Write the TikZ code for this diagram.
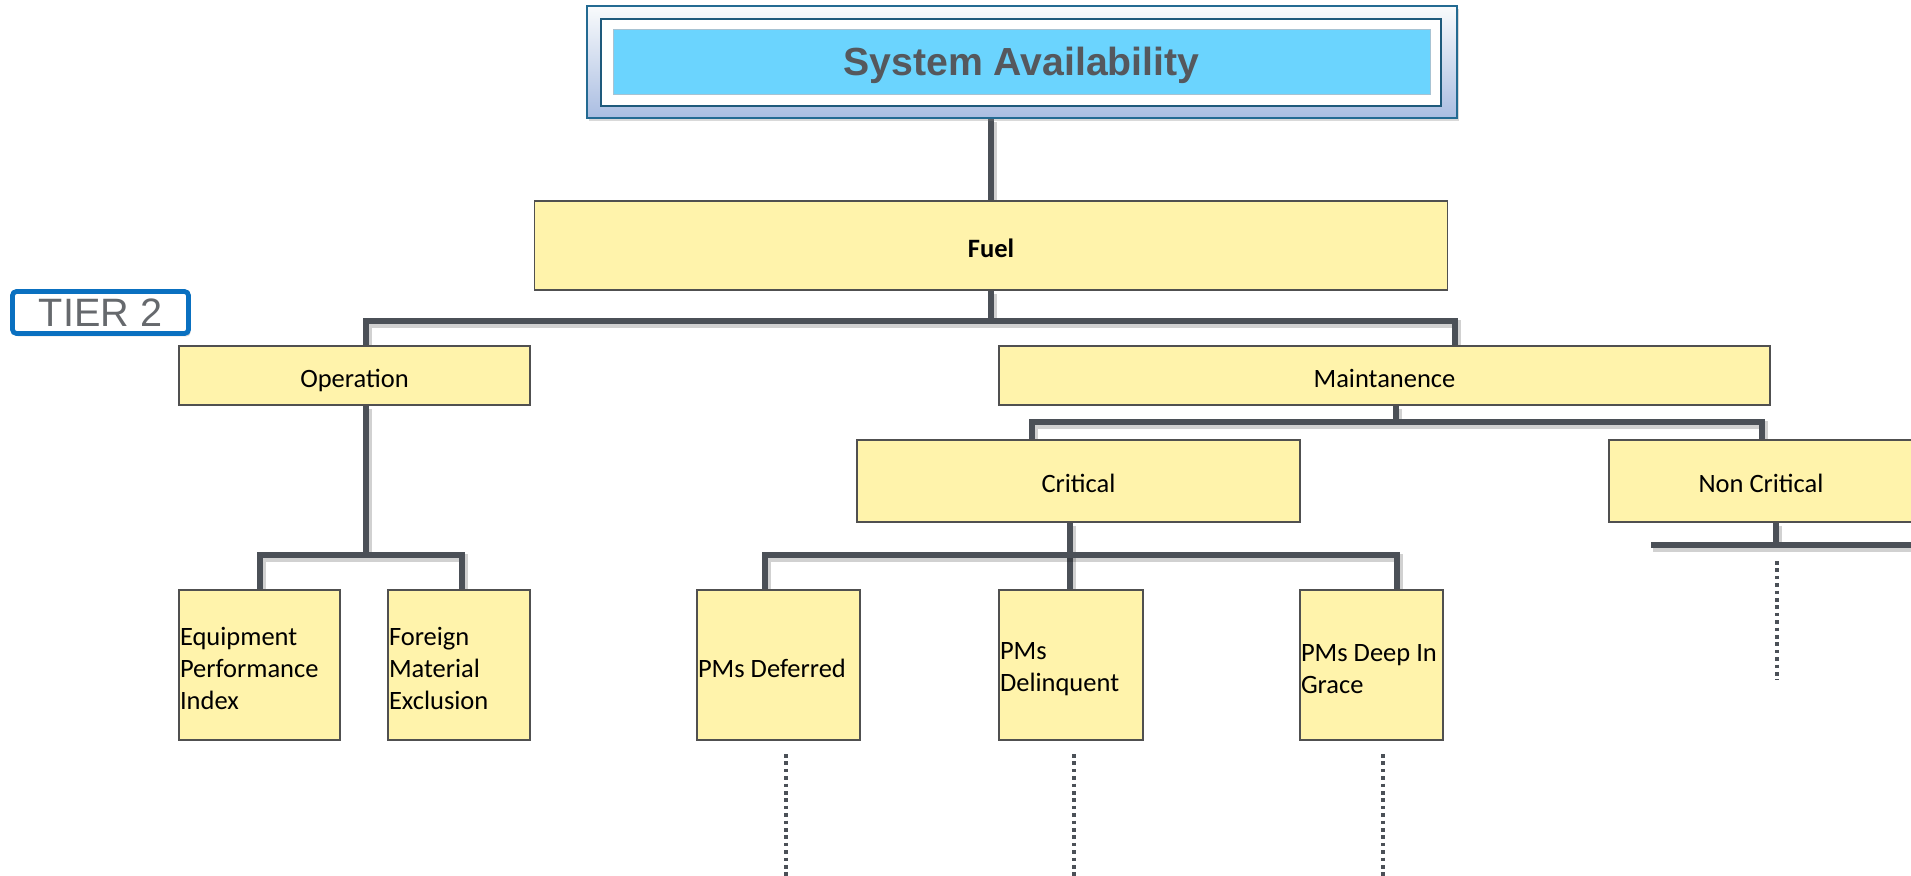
\documentclass[tikz,border=0pt]{standalone}
\usepackage{fontspec}
\setmainfont{Carlito}
\newfontfamily\arialfont{Liberation Sans}
\usetikzlibrary{shadows,backgrounds}
\definecolor{linegrey}{HTML}{4B5057}
\definecolor{boxfill}{HTML}{FFF3AB}
\definecolor{boxline}{HTML}{505050}
\definecolor{titlecyan}{HTML}{6BD4FE}
\definecolor{frameblue}{HTML}{236A92}
\definecolor{tierblue}{HTML}{0A70C0}
\definecolor{textgrey}{HTML}{55585D}

\begin{document}
\begin{tikzpicture}[x=0.5pt,y=-0.5pt,
  boxbase/.style={draw=boxline, line width=0.7pt, fill=boxfill, rectangle, inner sep=0pt,
              font=\fontsize{13.25}{15.9}\selectfont},
  box/.style={boxbase, text height=12pt, text depth=0pt},
  tall/.style={boxbase, align=flush left, inner xsep=0.5pt, minimum height=75pt, text width=#1,
               text height=12.5pt},
  conn/.style={draw=linegrey, line width=3pt, line join=miter,
               preaction={draw=black, opacity=0.18, line width=4pt,
                          transform canvas={xshift=0.8pt, yshift=-1.6pt}}},
  dots/.style={draw=linegrey, line width=2.3pt, dash pattern=on 1.8pt off 1.9pt},
  softshadow/.style={drop shadow={shadow xshift=1pt, shadow yshift=-1.5pt, opacity=0.3}}]

\useasboundingbox (0,0) rectangle (1911,876);
\clip (0,0) rectangle (1911,876);

% title block
\node[rectangle, draw=frameblue, line width=1.2pt, top color=white!80!frameblue!15,
      bottom color=frameblue!30!white!90!blue, minimum width=435pt, minimum height=56pt,
      softshadow] (top) at (1022,62) {};
\node[rectangle, draw=frameblue!85!black, line width=1.3pt, fill=white,
      minimum width=420pt, minimum height=43.5pt] (topinner) at (1021,62.5) {};
\node[rectangle, draw=frameblue!40, line width=0.3pt, fill=titlecyan,
      minimum width=408.5pt, minimum height=32.5pt, text=textgrey, text depth=0pt,
      font=\arialfont\bfseries\fontsize{19.6}{22}\selectfont] (title) at (1021.5,61.5) {System Availability};

% tier label
\node[rectangle, draw=tierblue, line width=2.4pt, rounded corners=2pt, fill=white,
      minimum width=88pt, minimum height=21pt, text=textgrey!90!white, softshadow, text depth=0pt,
      font=\arialfont\fontsize{19.8}{22}\selectfont] (tier) at (100.5,312.5) {TIER 2};

% tree boxes
\node[box, minimum width=456.5pt, minimum height=44.5pt, font=\fontsize{13.25}{15.9}\selectfont\bfseries] (fuel) at (991,245.5) {Fuel};
\node[box, minimum width=175.5pt, minimum height=29.5pt] (oper) at (354.5,375.5) {Operation};
\node[box, minimum width=385.5pt, minimum height=29.5pt] (maint) at (1384.5,375.5) {Maintanence};
\node[box, minimum width=221.5pt, minimum height=41pt] (crit) at (1078.5,481) {Critical};
\node[box, minimum width=152pt, minimum height=41pt] (noncrit) at (1761,481) {Non Critical};

\node[tall=79.5pt] (epi) at (259.5,665) {Equipment\\Performance\\Index};
\node[tall=70pt] (fme) at (459,665) {Foreign\\Material\\Exclusion};
\node[tall=80.5pt] (pmdef) at (778.5,665) {PMs Deferred};
\node[tall=71pt] (pmdel) at (1071,665) {PMs\\Delinquent};
\node[tall=70.5pt] (pmgr) at (1371.5,665) {\mbox{PMs Deep In}\\Grace};

% guide positions for the connector drops
\coordinate (xop) at (366,0);
\coordinate (xma) at (1455,0);
\coordinate (xmaStem) at (1396,0);
\coordinate (xcr) at (1032,0);
\coordinate (xnc) at (1762,0);
\coordinate (xncStem) at (1776,0);
\coordinate (xcrStem) at (1070,0);
\coordinate (xdef) at (765,0);
\coordinate (xgr) at (1397,0);
\coordinate (xepi) at (260,0);
\coordinate (xfme) at (462,0);

\coordinate (bus1) at (991,321);
\coordinate (busOp) at (366,555);
\coordinate (busMa) at (1396,422);
\coordinate (busCr) at (1070,555);
\coordinate (ncL) at (1651,545);
\coordinate (ncR) at (1935,545);

% dotted continuations
\coordinate (dncA) at (1777,561);  \coordinate (dncB) at (1777,680);
\coordinate (ddefA) at (786,754);  \coordinate (ddefB) at (786,880);
\coordinate (ddelA) at (1074,754); \coordinate (ddelB) at (1074,880);
\coordinate (dgrA) at (1383,754);  \coordinate (dgrB) at (1383,880);

\begin{scope}[on background layer]
  \draw[conn] (fuel.north) -- (fuel.north |- top.south);
  \draw[conn] (fuel.south) -- (bus1);
  \draw[conn] (oper.north -| xop) |- (bus1) -| (maint.north -| xma);

  \draw[conn] (oper.south -| xop) -- (busOp);
  \draw[conn] (epi.north -| xepi) |- (busOp) -| (fme.north -| xfme);

  \draw[conn] (maint.south -| xmaStem) -- (busMa);
  \draw[conn] (crit.north -| xcr) |- (busMa) -| (noncrit.north -| xnc);

  \draw[conn] (crit.south -| xcrStem) -- (pmdel.north -| xcrStem);
  \draw[conn] (pmdef.north -| xdef) |- (busCr) -| (pmgr.north -| xgr);

  \draw[conn] (noncrit.south -| xncStem) -- (xncStem |- ncL);
  \draw[conn] (ncL) -- (ncR);
\end{scope}

\draw[dots] (dncA) -- (dncB);
\draw[dots] (ddefA) -- (ddefB);
\draw[dots] (ddelA) -- (ddelB);
\draw[dots] (dgrA) -- (dgrB);
\end{tikzpicture}
\end{document}
